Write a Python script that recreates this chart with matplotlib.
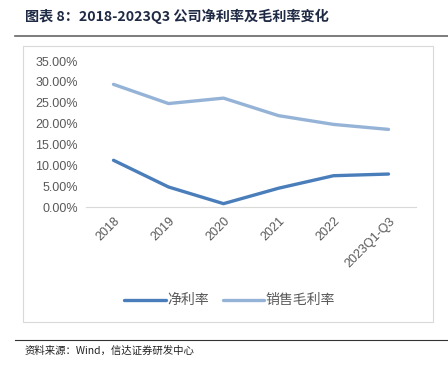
import matplotlib.pyplot as plt
from matplotlib.lines import Line2D
from matplotlib.patches import Rectangle

plt.rcParams['font.family'] = ['Noto Sans CJK SC', 'DejaVu Sans']

years = ['2018', '2019', '2020', '2021', '2022', '2023Q1-Q3']
net_margin = [11.2, 4.8, 0.8, 4.5, 7.5, 7.9]
gross_margin = [29.4, 24.8, 26.1, 21.9, 19.8, 18.6]
yticks = [0, 5, 10, 15, 20, 25, 30, 35]

fig = plt.figure(figsize=(4.48, 3.68), dpi=100)

# title and rules
fig.text(25 / 448, 1 - 16 / 368, '图表 8：2018-2023Q3 公司净利率及毛利率变化',
         fontsize=10.2, fontweight='bold', color='#1f2a44', va='center')
fig.add_artist(Line2D([15 / 448, 1], [1 - 36 / 368] * 2, color='#666666', lw=1.2))
fig.add_artist(Rectangle((23 / 448, 1 - 322 / 368), 410 / 448, 276 / 368,
                         fill=False, ec='#d9d9d9', lw=0.8))
fig.add_artist(Line2D([15 / 448, 1], [1 - 340 / 368] * 2, color='#333333', lw=0.8))
fig.text(25 / 448, 1 - 351 / 368, '资料来源：Wind，信达证券研发中心',
         fontsize=7.5, style='italic', color='#222222', va='center')

ax = fig.add_axes([86 / 448, 1 - 207 / 368, 330 / 448, 146 / 368])
x = range(len(years))
ax.plot(x, net_margin, color='#4a7ebb', lw=2.4, label='净利率', solid_capstyle='round')
ax.plot(x, gross_margin, color='#95b3d7', lw=2.4, label='销售毛利率', solid_capstyle='round')

ax.set_xlim(-0.5, len(years) - 0.5)
ax.set_ylim(0, 35)
ax.set_yticks(yticks)
ax.set_yticklabels(['%.2f%%' % v for v in yticks], fontsize=9, color='#595959',
                   family='Liberation Sans')
ax.set_xticks(list(x))
ax.set_xticklabels(years, rotation=45, ha='right', rotation_mode='anchor',
                   fontsize=9, color='#595959', family='Liberation Sans')
for s in ['top', 'right', 'left']:
    ax.spines[s].set_visible(False)
ax.spines['bottom'].set_color('#d9d9d9')
ax.tick_params(length=0, pad=6)

ax.legend(loc='center', bbox_to_anchor=(0.435, -0.64), ncol=2, frameon=False,
          fontsize=10, handlelength=3.0, columnspacing=1.0, handletextpad=0.1,
          labelcolor='#595959')

fig.savefig('out.png', dpi=100)
